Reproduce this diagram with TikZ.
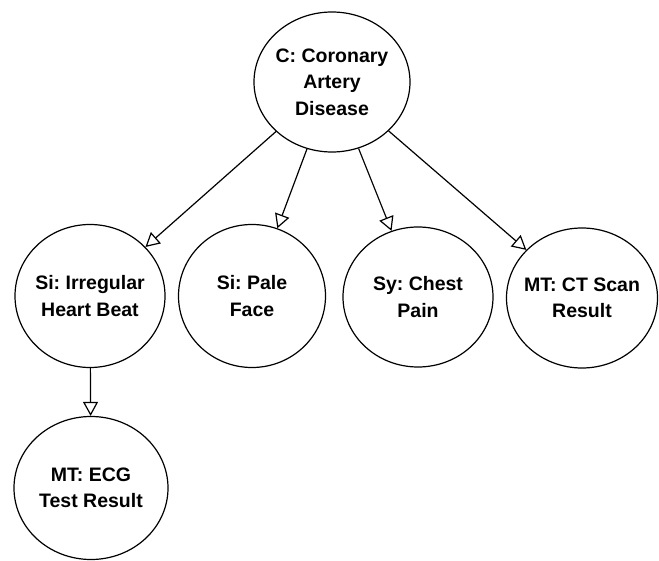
\documentclass[tikz,border=0pt]{standalone}
\usepackage{fontspec}
\setmainfont{Liberation Sans}
\frenchspacing
\usetikzlibrary{shapes.geometric,arrows.meta}
\tikzset{
  var/.style={ellipse, draw, line width=1.2pt, inner xsep=-30pt, inner ysep=-15pt,
    minimum width=150pt, minimum height=143pt, align=center,
    font=\fontsize{19.5}{26.5}\selectfont\bfseries},
  dep/.style={-{Triangle[open, length=14pt, width=15pt, fill=white]}, line width=1.2pt}
}
\begin{document}
\begin{tikzpicture}[x=1pt, y=-1pt]
      \useasboundingbox (0,0) rectangle (659,561);
      \draw
        (332,82) node[var, minimum width=156pt, minimum height=140pt] (cad){C: Coronary\\Artery\\Disease}
        (90,296) node[var] (irr){Si: Irregular\\Heart Beat}
        (252,296) node[var, minimum width=147pt] (pale){Si: Pale\\Face}
        (418,297) node[var, minimum height=140pt] (chest){Sy: Chest\\Pain}
        (582,298) node[var, minimum width=151pt, minimum height=140pt] (ct){MT: CT Scan\\Result}
        (91,488) node[var, minimum width=154pt] (ecg){MT: ECG\\Test Result};
      \begin{scope}[dep]
        \draw (cad) to (irr);
        \draw (cad) to (pale);
        \draw (cad) to (chest);
        \draw (cad) to (ct);
        \draw (irr) to (ecg);
      \end{scope}
    \end{tikzpicture}
\end{document}
